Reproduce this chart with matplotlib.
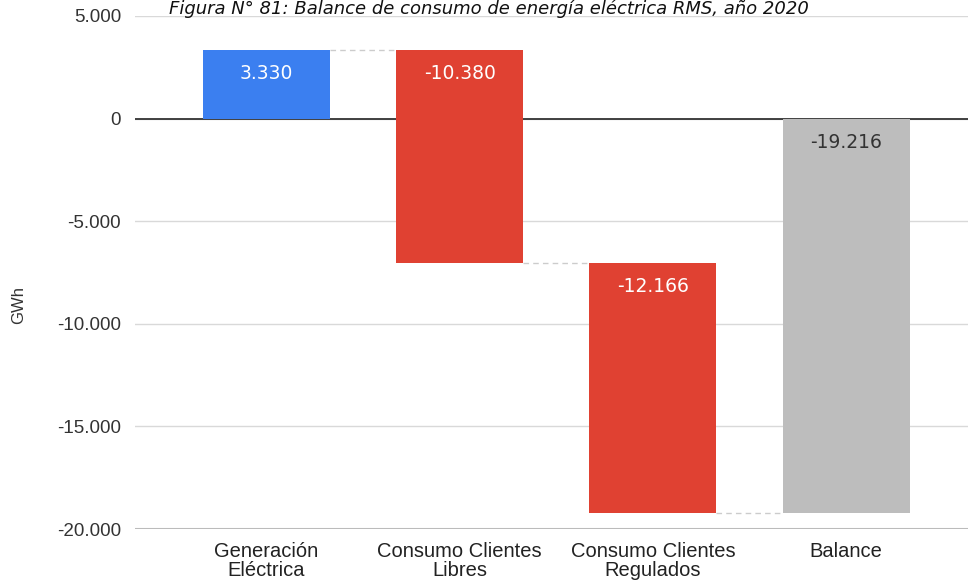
import matplotlib
matplotlib.use("Agg")
import numpy as np
from matplotlib import pyplot as plt
from matplotlib.ticker import FuncFormatter

# Data
categories = ["Generación\nEléctrica", "Consumo Clientes\nLibres",
              "Consumo Clientes\nRegulados", "Balance"]
values = [3330, -10380, -12166]
total = -19216
value_labels = ["3.330", "-10.380", "-12.166", "-19.216"]
yticks = [5000, 0, -5000, -10000, -15000, -20000]

BLUE = "#3b7ff0"
RED = "#e04132"
GREY = "#bdbdbd"

# Waterfall bottoms / tops
ends = np.cumsum(values)
starts = np.concatenate([[0], ends[:-1]])

fig = plt.figure(figsize=(9.68, 5.81), dpi=100)
ax = fig.add_axes([0.1395, 0.0895, 0.8605, 0.883])

x = np.arange(len(categories))
width = 0.657

colors = [BLUE if v > 0 else RED for v in values]
for i, (s, v) in enumerate(zip(starts, values)):
    ax.bar(x[i], v, bottom=s, width=width, color=colors[i], zorder=3)
ax.bar(x[-1], total, bottom=0, width=width, color=GREY, zorder=3)

# connector lines
levels = list(ends) + [total]
for i in range(len(values)):
    ax.plot([x[i] + width / 2, x[i + 1] - width / 2], [levels[i], levels[i]],
            ls=(0, (4, 3)), color="#cccccc", lw=1, zorder=2)

# value labels near top of each bar
tops = [max(s, s + v) for s, v in zip(starts, values)] + [0]
for i, lab in enumerate(value_labels):
    col = "#333333" if i == len(value_labels) - 1 else "white"
    ax.annotate(lab, (x[i], tops[i]), xytext=(0, -17), textcoords="offset points",
                ha="center", va="center", color=col, fontsize=13.5,
                family="DejaVu Sans", zorder=4)

ax.set_xlim(-0.68, 3.63)
ax.set_ylim(-20000, 5000)
ax.set_yticks(yticks)
ax.yaxis.set_major_formatter(
    FuncFormatter(lambda v, p: f"{int(v):,}".replace(",", ".")))
ax.set_xticks(x)
ax.set_xticklabels(categories, family="Liberation Sans", fontsize=14.5,
                   color="#222222", linespacing=1.0)
for lab in ax.get_yticklabels():
    lab.set_family("Liberation Sans")
    lab.set_fontsize(13.5)
    lab.set_color("#333333")
ax.tick_params(length=0, pad=10)
ax.tick_params(axis="x", pad=9)

ax.grid(axis="y", color="#d9d9d9", lw=1, zorder=0)
ax.axhline(0, color="#333333", lw=1.3, zorder=2.5)
ax.axhline(-20000, color="#bbbbbb", lw=1.5, zorder=2.5)
for sp in ax.spines.values():
    sp.set_visible(False)

fig.text(0.011, 0.475, "GWh", rotation=90, ha="left", va="center",
         family="Liberation Sans", fontsize=12, color="#333333")

fig.text(0.505, 1 - 14 / 581, "Figura N° 81: Balance de consumo de energía eléctrica RMS, año 2020",
         ha="center", va="baseline", fontsize=13, style="italic",
         family="DejaVu Sans", color="#111111")

fig.savefig("out.png", dpi=100)
